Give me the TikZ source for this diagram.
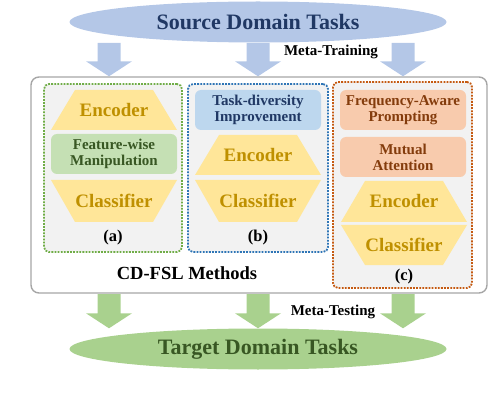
\documentclass[tikz,border=0pt]{standalone}
\usepackage{fontspec}
\setmainfont{Liberation Serif}
\usepackage{tikz}
\usetikzlibrary{shapes.geometric,calc}
\definecolor{srcblue}{HTML}{B4C7E7}
\definecolor{srcnavy}{HTML}{203864}
\definecolor{tgtgreen}{HTML}{A9D18E}
\definecolor{tgtdark}{HTML}{385723}
\definecolor{gold}{HTML}{FFE699}
\definecolor{goldtext}{HTML}{BF9000}
\definecolor{modgreen}{HTML}{C5E0B4}
\definecolor{modblue}{HTML}{BDD7EE}
\definecolor{modorange}{HTML}{F8CBAD}
\definecolor{orangetext}{HTML}{843C0C}
\definecolor{dotgreen}{HTML}{70AD47}
\definecolor{dotblue}{HTML}{2E75B6}
\definecolor{dotorange}{HTML}{C55A11}
\newcommand{\fsz}[2]{\fontsize{#1}{#2}\selectfont}
\tikzset{
  treenode/.style = {align=center, inner sep=0pt, text centered,
    font=\bfseries},
  task_e/.style = {treenode, ellipse, minimum width=377pt,
    minimum height=41pt, font=\bfseries\fsz{22}{24}},% source / target tasks
  meth_o/.style = {rectangle, rounded corners=8pt, draw=black!35,
    line width=1.4pt, fill=white},% outer box
  meth_d/.style = {rectangle, rounded corners=5pt, line width=1.8pt,
    dash pattern=on 1.8pt off 1.3pt, fill=black!5},% dotted box
  enc_t/.style = {treenode, rectangle, text=goldtext,
    minimum width=126pt, minimum height=40pt, font=\bfseries\fsz{19}{21},
    path picture={\fill[gold] (path picture bounding box.south west)
      -- (path picture bounding box.south east)
      -- ([xshift=-24pt]path picture bounding box.north east)
      -- ([xshift=24pt]path picture bounding box.north west) -- cycle;}},% encoder
  cls_t/.style = {treenode, rectangle, text=goldtext,
    minimum width=126pt, minimum height=40pt, font=\bfseries\fsz{19}{21},
    path picture={\fill[gold] (path picture bounding box.north west)
      -- (path picture bounding box.north east)
      -- ([xshift=-24pt]path picture bounding box.south east)
      -- ([xshift=24pt]path picture bounding box.south west) -- cycle;}},% classifier
  mod_b/.style = {treenode, rectangle, rounded corners=6pt,
    minimum width=126pt, minimum height=40pt, font=\bfseries\fsz{15}{16}},% module
  lbl/.style = {treenode, font=\bfseries\fsz{16.5}{18}},
  stage/.style = {treenode, font=\bfseries\fsz{15}{16}}
}
% block arrow: colour, start, end
\newcommand{\blockarrow}[3]{%
  \fill[#1] let \p1 = (#2), \p2 = (#3) in
    (\x1-11.5pt,\y1) -- (\x1+11.5pt,\y1) -- (\x1+11.5pt,\y2+15pt)
    -- (\x1+23pt,\y2+15pt) -- (\x1,\y2) -- (\x1-23pt,\y2+15pt)
    -- (\x1-11.5pt,\y2+15pt) -- cycle;}

\begin{document}
\begin{tikzpicture}[x=1pt, y=-1pt]
	\useasboundingbox (0,0) rectangle (490,406);
	\node [task_e, fill=srcblue, text=srcnavy] (src) at (258,22) {Source Domain Tasks};
	\node [meth_o, minimum width=456pt, minimum height=216pt] (methods) at (259,185) {};
	\node [treenode, font=\bfseries\fsz{18.5}{20}] (cdfsl) at (187,273) {CD-FSL Methods};
	% (a)
	\node [meth_d, draw=dotgreen, minimum width=138pt, minimum height=168pt] (boxa) at (113,168) {};
	\node [enc_t] (enca) at (114,110) {Encoder};
	\node [mod_b, fill=modgreen, text=tgtdark] (fwm) at (114,154) {Feature-wise\\Manipulation};
	\node [cls_t, minimum height=42pt] (clsa) at (114,201) {Classifier};
	\node [lbl] (la) at (113,238) {(a)};
	% (b)
	\node [meth_d, draw=dotblue, minimum width=140pt, minimum height=168pt] (boxb) at (258,168) {};
	\node [mod_b, fill=modblue, text=srcnavy] (tdi) at (258,110) {Task-diversity\\Improvement};
	\node [enc_t] (encb) at (258,155) {Encoder};
	\node [cls_t, minimum height=42pt] (clsb) at (258,201) {Classifier};
	\node [lbl] (lb) at (258,238) {(b)};
	% (c)
	\node [meth_d, draw=dotorange, minimum width=139pt, minimum height=206pt] (boxc) at (402.5,185) {};
	\node [mod_b, fill=modorange, text=orangetext] (fap) at (403,110) {Frequency-Aware\\Prompting};
	\node [mod_b, fill=modorange, text=orangetext] (mua) at (403,157) {Mutual\\Attention};
	\node [enc_t, minimum height=41pt] (encc) at (404,201.5) {Encoder};
	\node [cls_t] (clsc) at (404,245) {Classifier};
	\node [lbl] (lc) at (404,277) {(c)};
	% target
	\node [task_e, fill=tgtgreen, text=tgtdark] (tgt) at (258,349) {Target Domain Tasks};
	% meta-training arrows
	\coordinate (tr1) at (109,43);
	\coordinate (tr2) at (258,43);
	\coordinate (tr3) at (403,43);
	\blockarrow{srcblue}{tr1}{methods.north -| tr1}
	\blockarrow{srcblue}{tr2}{methods.north -| tr2}
	\blockarrow{srcblue}{tr3}{methods.north -| tr3}
	\node [stage] (mtr) at (331,52) {Meta-Training};
	% meta-testing arrows
	\coordinate (te1) at (109,294);
	\coordinate (te2) at (258,294);
	\coordinate (te3) at (403,294);
	\blockarrow{tgtgreen}{te1}{tgt.north -| te1}
	\blockarrow{tgtgreen}{te2}{tgt.north -| te2}
	\blockarrow{tgtgreen}{te3}{tgt.north -| te3}
	\node [stage] (mte) at (333,312) {Meta-Testing};
\end{tikzpicture}
\end{document}
